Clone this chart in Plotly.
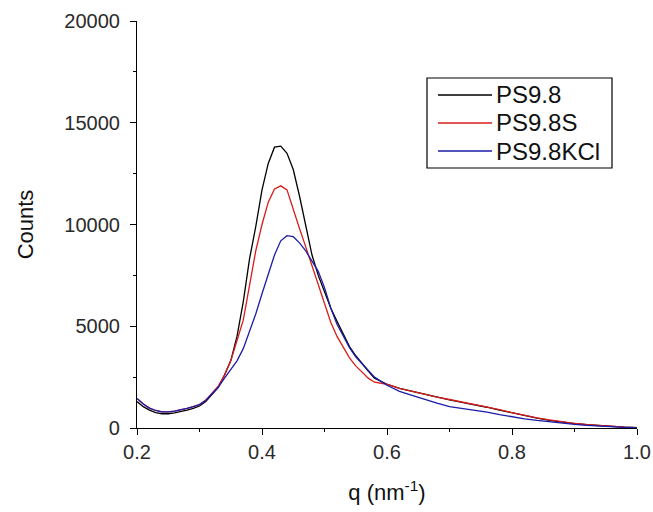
import plotly.graph_objects as go

q = [0.20, 0.21, 0.22, 0.23, 0.24, 0.25, 0.26, 0.27, 0.28, 0.29,
     0.30, 0.31, 0.32, 0.33, 0.34, 0.35, 0.36, 0.37, 0.38, 0.39,
     0.40, 0.41, 0.42, 0.43, 0.44, 0.45, 0.46, 0.47, 0.48, 0.49,
     0.50, 0.51, 0.52, 0.53, 0.54, 0.55, 0.56, 0.57, 0.58, 0.60,
     0.62, 0.64, 0.66, 0.68, 0.70, 0.72, 0.74, 0.76, 0.78, 0.80,
     0.82, 0.84, 0.86, 0.88, 0.90, 0.92, 0.94, 0.96, 0.98, 1.00]

ps98 = [1300, 1050, 880, 760, 700, 700, 740, 800, 880, 960,
        1080, 1300, 1650, 2000, 2600, 3300, 4500, 6200, 8300, 9900,
        11700, 13000, 13800, 13850, 13500, 12700, 11400, 10000, 8500, 7500,
        6700, 5900, 5250, 4600, 4000, 3550, 3150, 2800, 2450, 2150,
        1950, 1800, 1650, 1500, 1380, 1260, 1150, 1020, 880, 740,
        600, 480, 380, 290, 220, 160, 110, 70, 40, 20]

ps98s = [1450, 1180, 980, 860, 790, 790, 830, 890, 960, 1050,
         1150, 1370, 1700, 2050, 2600, 3300, 4300, 5300, 7000, 8700,
         10000, 11100, 11750, 11900, 11700, 10700, 9800, 8900, 8000, 7100,
         6200, 5200, 4500, 3950, 3450, 3050, 2750, 2450, 2250, 2150,
         1950, 1800, 1660, 1520, 1400, 1280, 1170, 1040, 900, 760,
         620, 500, 400, 300, 230, 160, 110, 70, 40, 20]

ps98kcl = [1450, 1180, 980, 860, 790, 790, 830, 890, 960, 1050,
           1150, 1350, 1650, 2000, 2450, 2850, 3300, 3900, 4700, 5600,
           6600, 7500, 8500, 9200, 9450, 9400, 9100, 8700, 8200, 7700,
           6900, 5900, 5100, 4500, 3950, 3500, 3150, 2800, 2500, 2100,
           1800, 1600, 1400, 1220, 1050, 960, 880, 780, 660, 550,
           450, 370, 300, 240, 180, 130, 90, 60, 35, 15]

names = ["PS9.8", "PS9.8S", "PS9.8KCl"]
colors = ["#000000", "#d81c1c", "#1c1ca8"]
series = [ps98, ps98s, ps98kcl]

FONT = "Liberation Sans, Arial, sans-serif"

fig = go.Figure()
for name, col, ys in zip(names, colors, series):
    fig.add_trace(go.Scatter(x=q, y=ys, mode="lines", name=name, showlegend=False,
                             line=dict(color=col, width=1.3, shape="linear")))

# Legend drawn as a framed box in paper coordinates (Origin-style)
W_PX, H_PX = 500.0, 407.0     # plot area size in px
LEFT_PX, TOP_PX = 137.0, 21.0
def px_x(p):
    return (p - LEFT_PX) / W_PX
def px_y(p):
    return (TOP_PX + H_PX - p) / H_PX

shapes = [dict(type="rect", xref="paper", yref="paper",
               x0=px_x(427), x1=px_x(612), y0=px_y(168), y1=px_y(78),
               line=dict(color="black", width=1.2), fillcolor="white", layer="above")]
annotations = []
row_px = [95, 123, 151]
for name, col, ry in zip(names, colors, row_px):
    shapes.append(dict(type="line", xref="paper", yref="paper",
                       x0=px_x(438), x1=px_x(492), y0=px_y(ry), y1=px_y(ry),
                       line=dict(color=col, width=1.3), layer="above"))
    annotations.append(dict(text=name, xref="paper", yref="paper",
                            x=px_x(494), y=px_y(ry), xanchor="left", yanchor="middle",
                            showarrow=False,
                            font=dict(family=FONT, size=24, color="#111")))

axis_common = dict(
    showline=True, linecolor="black", linewidth=1.2, mirror=False,
    ticks="outside", ticklen=6, tickwidth=1.2, tickcolor="black",
    showgrid=False, zeroline=False, automargin=False,
    tickfont=dict(family=FONT, size=20, color="#2a2a2a"),
)

fig.update_layout(
    width=653, height=512,
    margin=dict(l=137, r=16, t=21, b=84),
    paper_bgcolor="white", plot_bgcolor="white",
    font=dict(family=FONT, color="#111"),
    xaxis=dict(range=[0.2, 1.0], dtick=0.2, tick0=0.2, tickformat=".1f",
               minor=dict(dtick=0.1, ticklen=3, tickcolor="black", ticks="outside"),
               title=dict(text="q (nm<sup>-1</sup>)", font=dict(family=FONT, size=22), standoff=22),
               **axis_common),
    yaxis=dict(range=[0, 20000], dtick=5000, tick0=0, tickformat="d",
               ticklabelstandoff=6,
               minor=dict(dtick=2500, ticklen=3, tickcolor="black", ticks="outside"),
               title=dict(text="Counts", font=dict(family=FONT, size=22), standoff=24),
               **axis_common),
    shapes=shapes,
    annotations=annotations,
    showlegend=False,
)

fig.write_html("out.html")
